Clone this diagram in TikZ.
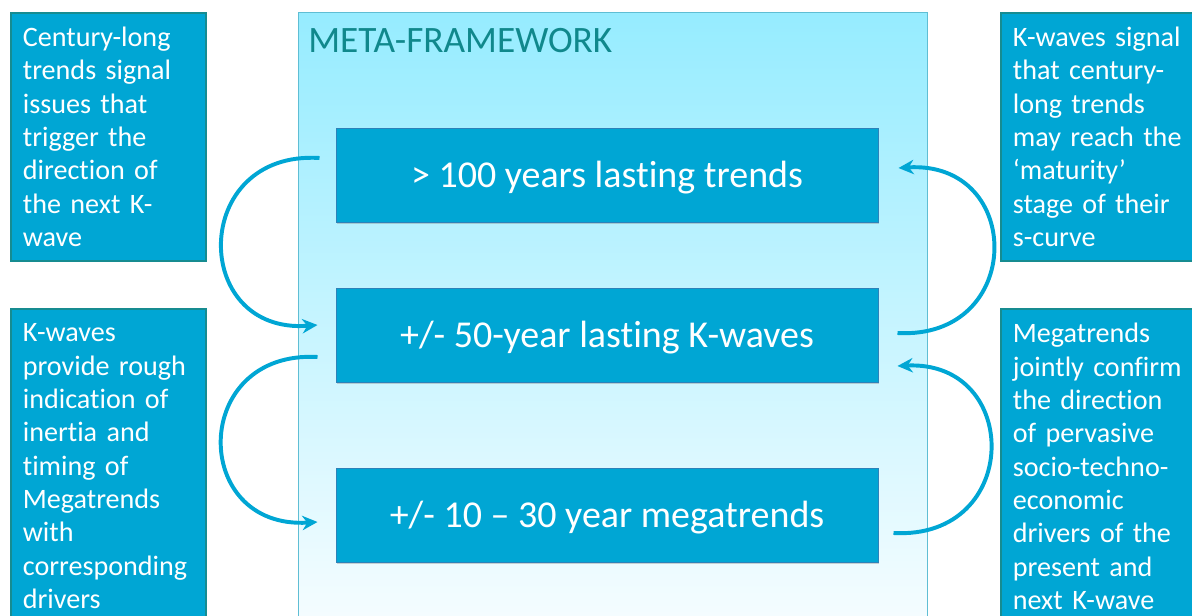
\documentclass[tikz,border=0pt]{standalone}
\usepackage{fontspec}
\setmainfont{Carlito}[Ligatures={TeX,NoCommon}]
\usetikzlibrary{arrows.meta,shadows,calc}

\definecolor{boxblue}{RGB}{0,166,212}
\definecolor{boxedge}{RGB}{22,140,145}
\definecolor{tieredge}{RGB}{45,130,185}
\definecolor{frametop}{RGB}{150,236,255}
\definecolor{framebot}{RGB}{248,253,255}
\definecolor{frameedge}{RGB}{95,190,212}
\definecolor{titleteal}{RGB}{16,136,140}

\begin{document}
\begin{tikzpicture}[x=0.025cm,y=-0.025cm,
    sidebox/.style={draw=boxedge,line width=1.2pt,fill=boxblue,text=white,align=left,
      inner xsep=0.3cm,inner ysep=0pt,anchor=north west,font=\fontsize{20}{23.7}\selectfont},
    tier/.style={draw=tieredge,line width=0.6pt,fill=boxblue,text=white,
      minimum width=13.55cm,minimum height=2.35cm,text height=23.4pt,text depth=5pt,
      font=\fontsize{27}{30}\selectfont,
      drop shadow={shadow xshift=0.6pt,shadow yshift=-1.5pt,opacity=0.35}},
    cyclearrow/.style={draw=boxblue,line width=2.8pt,-{Stealth[length=0.38cm,width=0.36cm]}}]
  \useasboundingbox (0,0) rectangle (1192,616);
  \clip (0,0) rectangle (1192,616);

  % side notes
  \node[sidebox,text width=4.275cm,minimum height=6.2cm] (lefttop) at (10,12)
    {Century-long\\trends signal\\issues that\\trigger the\\direction of\\the next K-\\wave};
  \node[sidebox,text width=4.275cm,minimum height=7.875cm] (leftbot) at (10,308)
    {K-waves\\provide rough\\indication of\\inertia and\\timing of\\Megatrends\\with\\corresponding\\drivers};
  \node[sidebox,text width=4.7cm,minimum height=6.2cm] (righttop) at (1000,12)
    {K-waves signal\\that century-\\long trends\\may reach the\\‘maturity’\\stage of their\\s-curve};
  \node[sidebox,text width=4.7cm,minimum height=7.875cm] (rightbot) at (1000,308)
    {Megatrends\\jointly confirm\\the direction\\of pervasive\\socio-techno-\\economic\\drivers of the\\present and\\next K-wave};

  % meta-framework
  \node[draw=frameedge,line width=0.8pt,top color=frametop,bottom color=framebot,
    minimum width=15.725cm,minimum height=15.7cm,anchor=north west,inner sep=0pt] (frame) at (298,12) {};
  \node[anchor=west,text=titleteal,font=\fontsize{26.5}{30}\selectfont,inner sep=0pt] (title) at (308,41) {META-FRAMEWORK};

  \node[tier] (hundred) at (607,175) {> 100 years lasting trends};
  \node[tier] (kwave) at (607,335) {+/- 50-year lasting K-waves};
  \node[tier] (mega) at (607,515) {+/- 10 – 30 year megatrends};

  % loops
  \coordinate (a1s) at ($(hundred.west)+(-16,-17)$);
  \coordinate (a1e) at ($(kwave.west)+(-18,-10)$);
  \coordinate (a2s) at ($(kwave.west)+(-18,22)$);
  \coordinate (a2e) at ($(mega.west)+(-18,7)$);
  \coordinate (a3s) at ($(kwave.east)+(19,-2)$);
  \coordinate (a3e) at ($(hundred.east)+(20,-7)$);
  \coordinate (a4s) at ($(mega.east)+(15,18)$);
  \coordinate (a4e) at ($(kwave.east)+(19,31)$);

  \draw[cyclearrow] (a1s) .. controls (190,150) and (190,335) .. (a1e);
  \draw[cyclearrow] (a2s) .. controls (190,350) and (190,530) .. (a2e);
  \draw[cyclearrow] (a3s) .. controls (1025,340) and (1025,160) .. (a3e);
  \draw[cyclearrow] (a4s) .. controls (1022,540) and (1022,360) .. (a4e);
\end{tikzpicture}
\end{document}
